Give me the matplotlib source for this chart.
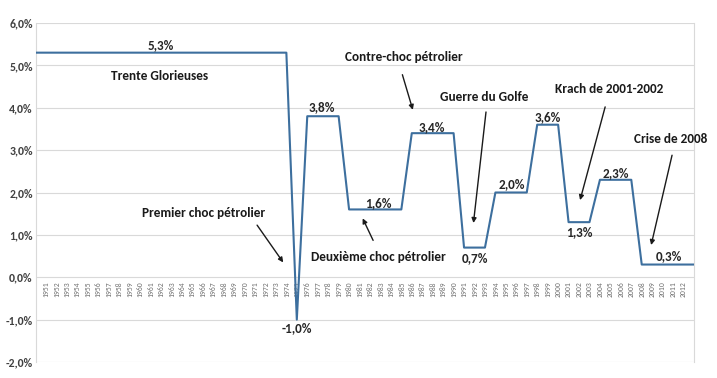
import matplotlib
matplotlib.use("Agg")
import matplotlib.pyplot as plt

years = list(range(1950, 2014))
growth = [
    5.3, 5.3, 5.3, 5.3, 5.3, 5.3, 5.3, 5.3, 5.3, 5.3,
    5.3, 5.3, 5.3, 5.3, 5.3, 5.3, 5.3, 5.3, 5.3, 5.3,
    5.3, 5.3, 5.3, 5.3, 5.3,
    -1.0,
    3.8, 3.8, 3.8, 3.8,
    1.6, 1.6, 1.6, 1.6, 1.6, 1.6,
    3.4, 3.4, 3.4, 3.4, 3.4,
    0.7, 0.7, 0.7,
    2.0, 2.0, 2.0, 2.0,
    3.6, 3.6, 3.6,
    1.3, 1.3, 1.3,
    2.3, 2.3, 2.3, 2.3,
    0.3, 0.3, 0.3, 0.3, 0.3, 0.3,
]
tick_years = list(range(1951, 2013))
y_ticks = [-2, -1, 0, 1, 2, 3, 4, 5, 6]

# value labels: (text, x, y)
value_labels = [
    ("5,3%", 1962.0, 5.48), ("3,8%", 1977.4, 4.02), ("-1,0%", 1975.0, -1.21),
    ("1,6%", 1982.8, 1.75), ("3,4%", 1987.9, 3.55), ("0,7%", 1992.0, 0.45),
    ("2,0%", 1995.6, 2.20), ("3,6%", 1999.0, 3.78), ("1,3%", 2002.0, 1.06),
    ("2,3%", 2005.5, 2.46), ("0,3%", 2010.6, 0.50),
]
# events: (text, text x, text y, arrow start, arrow end)
events = [
    ("Trente Glorieuses", 1961.9, 4.75, None, None),
    ("Premier choc pétrolier", 1966.1, 1.51, (1971.2, 1.23), (1973.7, 0.35)),
    ("Deuxième choc pétrolier", 1982.8, 0.47, (1982.3, 0.87), (1981.3, 1.39)),
    ("Contre-choc pétrolier", 1985.2, 5.20, (1985.1, 4.78), (1986.1, 3.95)),
    ("Guerre du Golfe", 1992.9, 4.26, (1993.1, 3.90), (1991.9, 1.28)),
    ("Krach de 2001-2002", 2004.9, 4.44, (2004.5, 4.02), (2002.1, 1.82)),
    ("Crise de 2008", 2010.8, 3.26, (2010.9, 2.88), (2008.9, 0.76)),
]

plt.rcParams['font.family'] = ['Carlito', 'DejaVu Sans']

fig = plt.figure(figsize=(7.17, 3.78), dpi=100)
ax = fig.add_axes([35.5 / 717, 16 / 378, 658.5 / 717, 339 / 378])

# x axis crosses at 0 (set before ticks, it resets them)
ax.spines['bottom'].set_position(('data', 0))
ax.spines['bottom'].set_visible(False)
ax.spines['top'].set_visible(False)
for side in ('left', 'right'):
    ax.spines[side].set_color('#D9D9D9')
    ax.spines[side].set_linewidth(0.8)

ax.plot(years, growth, color='#3D6F9E', linewidth=1.5, zorder=3)

ax.set_xlim(1950, 2013)
ax.set_ylim(-2, 6)
ax.set_yticks(y_ticks)
ax.set_yticklabels([('%.1f%%' % v).replace('.', ',') for v in y_ticks])
ax.set_xticks(tick_years)
ax.set_xticklabels([str(y) for y in tick_years])
ax.tick_params(axis='both', length=0)
ax.tick_params(axis='y', pad=2, labelsize=8.5, labelcolor='#404040')
ax.tick_params(axis='x', pad=3, labelsize=5.5, labelcolor='#707070',
               labelrotation=90)
for lab in ax.get_yticklabels():
    lab.set_fontweight('bold')

ax.grid(axis='y', color='#D9D9D9', linewidth=0.8)
ax.set_axisbelow(True)

for text, x, y in value_labels:
    ax.text(x, y, text, ha='center', va='center', fontsize=9.5,
            fontweight='bold', color='#262626')

for text, x, y, start, end in events:
    ax.text(x, y, text, ha='center', va='center', fontsize=9.5,
            fontweight='bold', color='#1A1A1A')
    if start is not None:
        ax.annotate('', xy=end, xytext=start,
                    arrowprops=dict(arrowstyle='-|>', color='#1A1A1A',
                                    lw=1.0, mutation_scale=7,
                                    shrinkA=0, shrinkB=0))

fig.savefig('out.png', dpi=100)
